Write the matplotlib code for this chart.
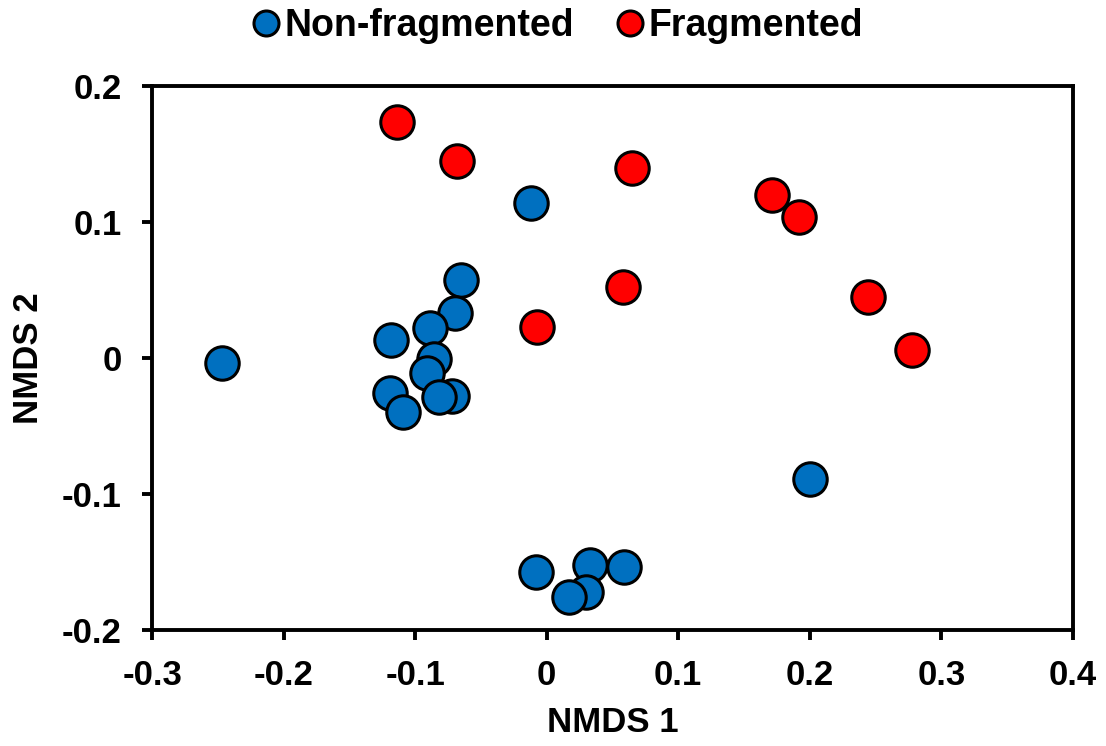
import matplotlib.pyplot as plt
from matplotlib.lines import Line2D

plt.rcParams['font.family'] = ['Liberation Sans', 'DejaVu Sans']
plt.rcParams['font.weight'] = 'bold'

# NMDS scores
nonfrag_x = [-0.247, -0.012, -0.065, -0.070, -0.089, -0.118, -0.086, -0.091,
             -0.119, -0.109, -0.072, -0.082, 0.200, -0.008, 0.033, 0.030,
             0.017, 0.059]
nonfrag_y = [-0.004, 0.114, 0.057, 0.033, 0.022, 0.013, -0.001, -0.011,
             -0.026, -0.040, -0.028, -0.029, -0.089, -0.157, -0.152, -0.172,
             -0.176, -0.154]

frag_x = [-0.114, -0.068, 0.065, 0.171, 0.192, 0.058, -0.007, 0.244, 0.278]
frag_y = [0.1735, 0.145, 0.140, 0.120, 0.104, 0.052, 0.023, 0.045, 0.006]

blue = '#0070C0'
red = '#FF0000'

fig = plt.figure(figsize=(11.06, 7.46), dpi=100)
ax = fig.add_axes([0.1375, 0.1555, 0.8325, 0.7292])

ax.scatter(nonfrag_x, nonfrag_y, s=580, color=blue, edgecolor='black',
           linewidth=2.2, zorder=3)
ax.scatter(frag_x, frag_y, s=580, color=red, edgecolor='black',
           linewidth=2.2, zorder=3)

ax.set_xlim(-0.3, 0.4)
ax.set_ylim(-0.2, 0.2)
ax.set_xticks([-0.3, -0.2, -0.1, 0, 0.1, 0.2, 0.3, 0.4])
ax.set_xticklabels(['-0.3', '-0.2', '-0.1', '0', '0.1', '0.2', '0.3', '0.4'])
ax.set_yticks([-0.2, -0.1, 0, 0.1, 0.2])
ax.set_yticklabels(['-0.2', '-0.1', '0', '0.1', '0.2'])
ax.tick_params(direction='out', length=7, width=2.8, labelsize=25)
ax.tick_params(axis='x', pad=14)
ax.tick_params(axis='y', pad=15)
for sp in ax.spines.values():
    sp.set_linewidth(2.8)

ax.set_xlabel('NMDS 1', fontsize=25, fontweight='bold', labelpad=10)
ax.set_ylabel('NMDS 2', fontsize=25, fontweight='bold', labelpad=12)

handles = [
    Line2D([], [], marker='o', linestyle='none', markersize=18,
           markerfacecolor=blue, markeredgecolor='black', markeredgewidth=2.2),
    Line2D([], [], marker='o', linestyle='none', markersize=18,
           markerfacecolor=red, markeredgecolor='black', markeredgewidth=2.2),
]
fig.legend(handles, ['Non-fragmented', 'Fragmented'], loc='upper center',
           bbox_to_anchor=(0.502, 1.035), ncol=2, frameon=False, fontsize=27,
           handletextpad=0.0, columnspacing=1.0, handlelength=1.0)

fig.savefig('out.png', dpi=100)
